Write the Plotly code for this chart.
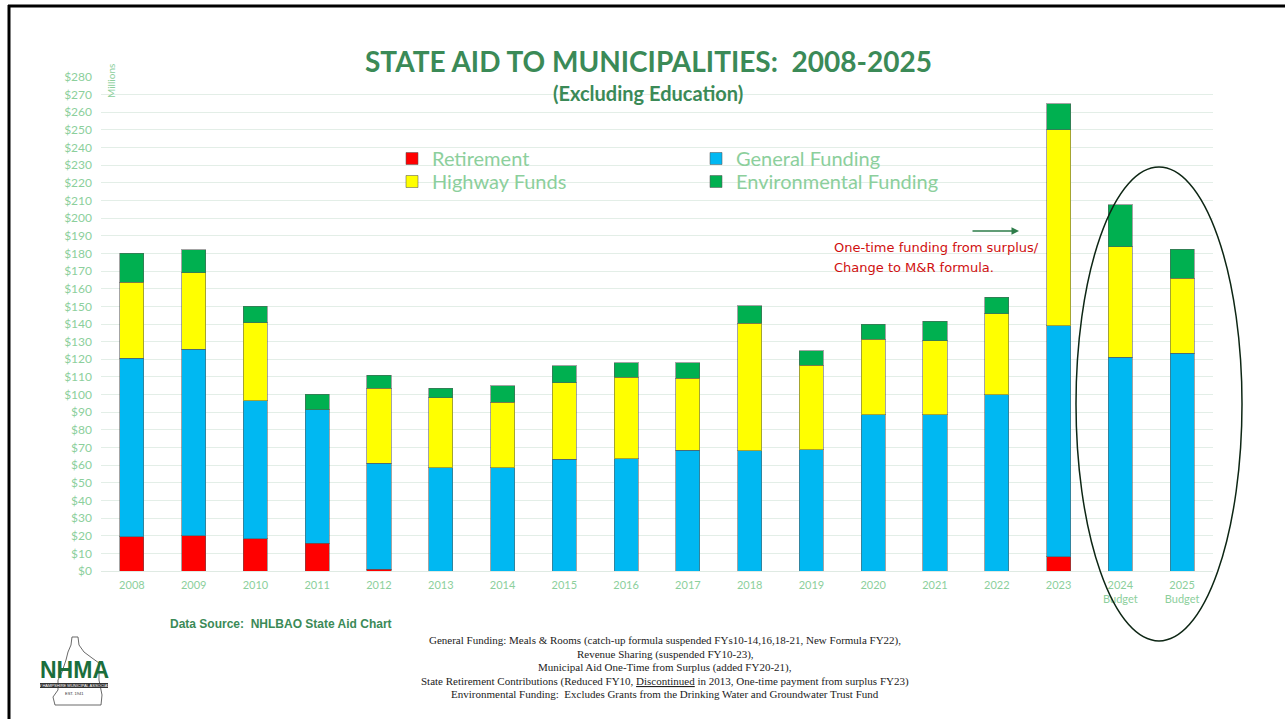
import plotly.graph_objects as go

# ---------------- data ----------------
years = ["2008", "2009", "2010", "2011", "2012", "2013", "2014", "2015", "2016",
         "2017", "2018", "2019", "2020", "2021", "2022", "2023",
         "2024<br>Budget", "2025<br>Budget"]
retirement = [19.5, 20.0, 18.3, 15.7, 1.0, 0, 0, 0, 0, 0, 0, 0, 0, 0, 0, 8.1, 0, 0]
general = [101.1, 105.7, 78.1, 75.6, 60.0, 58.6, 58.6, 63.3, 63.5, 68.4, 68.2, 68.6,
           88.5, 88.5, 99.8, 130.8, 121.2, 123.4]
highway = [43.1, 43.4, 44.4, 0, 42.6, 39.5, 37.0, 43.3, 46.3, 40.8, 72.2, 48.0,
           42.9, 42.1, 45.9, 111.1, 62.6, 42.5]
environmental = [16.5, 12.9, 9.4, 8.9, 7.3, 5.5, 9.5, 9.8, 8.3, 8.7, 10.0, 8.3,
                 8.6, 11.1, 9.6, 14.7, 23.7, 16.6]
y_ticks = list(range(0, 281, 10))
y_labels = ["$" + str(v) for v in y_ticks]

footnotes = [
    "General Funding: Meals &amp; Rooms (catch-up formula suspended FYs10-14,16,18-21, New Formula FY22),",
    "Revenue Sharing (suspended FY10-23),",
    "Municipal Aid One-Time from Surplus (added FY20-21),",
    "State Retirement Contributions (Reduced FY10, <u>Discontinued</u> in 2013, One-time payment from surplus FY23)",
    "Environmental Funding:  Excludes Grants from the Drinking Water and Groundwater Trust Fund",
]

# ---------------- layout helpers ----------------
W, H = 1285, 719
L, R, T, B = 101, 1213, 77, 571  # plot area in pixels


def px(x):
    return (x - L) / (R - L)


def py(y):
    return (B - y) / (B - T)


GREEN_TXT = "#8ccf9c"
TITLE_GREEN = "#3b8a57"
FONT = "Lato, 'Open Sans', sans-serif"

fig = go.Figure()
series = [
    ("Retirement", retirement, "#ff0000", "legend"),
    ("General Funding", general, "#00b8f2", "legend2"),
    ("Highway Funds", highway, "#ffff00", "legend3"),
    ("Environmental Funding", environmental, "#00b050", "legend4"),
]
for name, vals, col, lg in series:
    fig.add_trace(go.Bar(
        x=years, y=vals, name=name, legend=lg,
        marker=dict(color=col, line=dict(color="rgba(90,90,90,0.55)", width=1)),
    ))

legend_common = dict(xanchor="left", yanchor="top", orientation="v",
                     traceorder="normal", bgcolor="rgba(0,0,0,0)",
                     font=dict(size=20, color=GREEN_TXT, family=FONT),
                     itemwidth=30, tracegroupgap=0)
fig.update_layout(
    width=W, height=H,
    barmode="stack", bargap=0.61,
    paper_bgcolor="white", plot_bgcolor="white",
    margin=dict(l=L, r=W - R, t=T, b=H - B, pad=0),
    font=dict(family=FONT, color=GREEN_TXT),
    showlegend=True,
    legend=dict(x=px(392), y=py(139), **legend_common),
    legend2=dict(x=px(696), y=py(139), **legend_common),
    legend3=dict(x=px(392), y=py(162), **legend_common),
    legend4=dict(x=px(696), y=py(162), **legend_common),
    xaxis=dict(type="category", showgrid=False, showline=False, ticks="",
               ticklabelstandoff=6,
               tickfont=dict(size=11, color=GREEN_TXT, family=FONT),
               fixedrange=True),
    yaxis=dict(range=[0, 280], tickvals=y_ticks, ticktext=y_labels,
               showgrid=True, gridcolor="#e3eee7", gridwidth=1,
               zeroline=True, zerolinecolor="#dfeae3", zerolinewidth=1,
               showline=False, ticks="", ticklabelstandoff=8,
               tickfont=dict(size=12, color=GREEN_TXT, family=FONT),
               fixedrange=True),
)


def note(x, y, text, size, color, family=FONT, xanchor="center", **kw):
    d = dict(x=px(x), y=py(y), xref="paper", yref="paper", showarrow=False,
             xanchor=xanchor, yanchor="middle", text=text,
             font=dict(size=size, color=color, family=family))
    d.update(kw)
    return d


ann = []
ann.append(note(648, 61, "<b>STATE AID TO MUNICIPALITIES:\u00a0 2008-2025</b>", 28, TITLE_GREEN))
ann.append(note(648, 93, "<b>(Excluding Education)</b>", 20, TITLE_GREEN))
ann.append(note(111, 81, "Millions", 10, GREEN_TXT, textangle=-90))
ann.append(note(832, 247, "One-time funding from surplus/", 13, "#d01010", "DejaVu Sans", "left"))
ann.append(note(832, 267, "Change to M&amp;R formula.", 13, "#d01010", "DejaVu Sans", "left"))
ann.append(dict(x=px(1019), y=py(231), xref="paper", yref="paper", text="",
                showarrow=True, ax=-48, ay=0, arrowhead=2, arrowsize=1,
                arrowwidth=1.5, arrowcolor="#2e7d4a"))
ann.append(note(168, 624, "<b>Data Source:\u00a0 NHLBAO State Aid Chart</b>", 12,
                "#3b8a57", "Liberation Sans, Arial", "left"))
for txt, yy in zip(footnotes, [640, 654, 667, 681, 694]):
    ann.append(note(665, yy, txt.replace("  ", "\u00a0 "), 11, "#222222",
                    "Liberation Serif, serif"))
ann.append(note(74, 670, "<b>NHMA</b>", 23, "#1b6e3c", "Liberation Sans, Arial"))
ann.append(note(74, 685.5, "NEW HAMPSHIRE MUNICIPAL ASSOCIATION", 4, "white",
                "Liberation Sans, Arial"))
ann.append(note(74, 693, "EST. 1941", 4, "#333333", "Liberation Sans, Arial"))
fig.update_layout(annotations=ann)

shapes = []
shapes.append(dict(type="circle", xref="paper", yref="paper",
                   x0=px(1076), x1=px(1242), y0=py(641), y1=py(167),
                   line=dict(color="#0d2614", width=1.5)))
shapes.append(dict(type="line", xref="paper", yref="paper",
                   x0=px(8), x1=px(1290), y0=py(6), y1=py(6),
                   line=dict(color="black", width=3)))
shapes.append(dict(type="line", xref="paper", yref="paper",
                   x0=px(9), x1=px(9), y0=py(5), y1=py(725),
                   line=dict(color="black", width=3)))
shapes.append(dict(type="rect", xref="paper", yref="paper",
                   x0=px(40), x1=px(108), y0=py(688), y1=py(683),
                   fillcolor="#333333", line=dict(width=0)))
outline_px = [(72, 637), (78, 637), (79, 645), (84, 652), (92, 658), (99, 663),
              (99, 680), (102, 695), (101, 705), (55, 705), (53, 697), (58, 690),
              (58, 680), (62, 672), (66, 660), (68, 652), (71, 645)]
path = "M " + " L ".join(f"{px(a):.5f},{py(b):.5f}" for a, b in outline_px) + " Z"
shapes.append(dict(type="path", xref="paper", yref="paper", path=path,
                   line=dict(color="#444444", width=0.8), layer="below"))
fig.update_layout(shapes=shapes)

fig.write_html("out.html", config={"displayModeBar": False},
               post_script="document.body.style.margin='0';document.body.style.overflow='hidden';")
